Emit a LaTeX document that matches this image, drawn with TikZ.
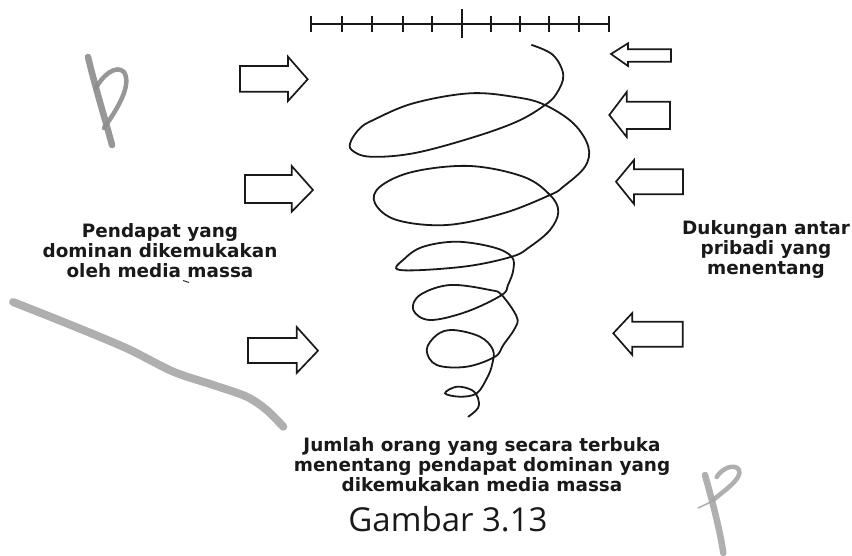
\documentclass[tikz,border=0pt]{standalone}
\usepackage{fontspec}
\newfontfamily\labelfont{DejaVu Sans}
\newfontfamily\captionfont{Open Sans}
\begin{document}
\begin{tikzpicture}[x=1pt,y=-1pt,
  ink/.style={draw=black!90, line width=1.8pt, line join=miter},
  blockarrow/.style={ink, line width=1.7pt},
  tick/.style={draw=black!90, line width=1.7pt},
  label/.style={font=\labelfont\bfseries\fontsize{18.4}{20}\selectfont, align=center, inner sep=0pt, text=black!90},
  pencil/.style={draw=black!45, line cap=round, line join=round, opacity=0.9}]
\useasboundingbox (0,0) rectangle (852,555);

% scale ruler along the top
\coordinate (rulerL) at (311,24);
\coordinate (rulerR) at (609.3,24);
\draw[ink, line width=1.4pt] (rulerL) -- (rulerR);
\foreach \tx in {311,342.3,371.7,402.7,432.3,491,520,549.3,579.3,609.3}
  \draw[tick] (\tx,16) -- (\tx,32);
\draw[tick] (462.3,9) -- (462.3,38);

% pressure arrows from the left (dominant media opinion)
\draw[blockarrow] (240,66) -- (288,66) -- (288,56.7) -- (307.7,79.3) -- (288,101) -- (288,91.7) -- (240,91.7) -- cycle;
\draw[blockarrow] (245,175) -- (291.7,175) -- (291.7,166) -- (313,190) -- (291.7,211.7) -- (291.7,203) -- (245,203) -- cycle;
\draw[blockarrow] (248,338) -- (296.7,338) -- (296.7,327) -- (318,350.7) -- (296.7,373) -- (296.7,363) -- (248,363) -- cycle;

% pressure arrows from the right (interpersonal support)
\draw[blockarrow] (671,49.3) -- (628,49.3) -- (628,43.3) -- (611,54) -- (628,66) -- (628,61.7) -- (671,61.7) -- cycle;
\draw[blockarrow] (670,101.7) -- (626.7,101.7) -- (626.7,92) -- (609.3,115) -- (626.7,137) -- (626.7,129) -- (670,129) -- cycle;
\draw[blockarrow] (683,169.3) -- (634,169.3) -- (634,160) -- (616,181.7) -- (634,204) -- (634,194.3) -- (683,194.3) -- cycle;
\draw[blockarrow] (682.7,321.7) -- (632.3,321.7) -- (632.3,313) -- (613.3,333.3) -- (632.3,355) -- (632.3,346.7) -- (682.7,346.7) -- cycle;

% the spiral of silence
\draw[ink, line cap=round] plot[smooth, tension=0.6] coordinates {
  (531.7,45) (553,55) (563.3,75) (556.7,93.3) (545,105) (516.7,121.7) (470,138.3)
  (413.3,153.3) (370,156.7) (351.7,150) (351,141) (360,128.3) (373.3,120) (413.3,103.3)
  (470,93.3) (516.7,97.3) (545,105) (573.3,123.3) (588.3,146.7) (585,166.7) (563.3,186.7)
  (550,195) (503.3,213.3) (446.7,225) (396.7,220) (375,203.3) (380,186.7) (413.3,171.7)
  (470,166) (523.3,176.7) (550,195) (558.3,211.7) (550,230) (530,246.7) (511.7,256.7)
  (463.3,266.7) (400,270) (405,258.3) (423.3,246.7) (456.7,241.7) (493.3,247.3)
  (511.7,256.7) (513.3,270) (508,285) (501.7,295) (466.7,311.7) (430,320) (413.3,310)
  (420,295) (450,285) (490,290) (501.7,295) (516.7,316.7) (515,328) (503.3,345)
  (495,356.7) (466.7,366.7) (436.7,365) (426.7,350) (436.7,335) (453,330) (480,336.7)
  (493,350) (492,365) (487,378) (476.7,393.3) (460,396.7) (445,393.3) (456.7,386.7)
  (471.7,390) (478,398) (478,408) (468.3,416.7)};

% labels
\node[label] (media) at (160,251) {Pendapat yang\\dominan dikemukakan\\oleh media massa};
\node[label] (support) at (766,249.5) {Dukungan antar\\pribadi yang\\menentang};
\node[label] (count) at (482,464.5) {Jumlah orang yang secara terbuka\\menentang pendapat dominan yang\\dikemukakan media massa};
\node[font=\captionfont\fontsize{33}{36}\selectfont, anchor=base, inner sep=0pt, text=black!90] (caption) at (448,531.7) {Gambar 3.13};

% pencil marks on the page
\draw[pencil, line width=6.5pt] (88,57) .. controls (96,90) and (104,115) .. (112,145);
\draw[pencil, line width=4.5pt] (104,128) .. controls (118,108) and (132,85) .. (124,72) .. controls (116,64) and (102,76) .. (96,88);
\draw[pencil, line width=8pt, draw=black!35] plot[smooth] coordinates {(13,302) (66.7,323.3) (126.7,348.3) (173.3,371.7) (213.3,385) (246.7,396.7) (266.7,410) (283.3,426.7)};
\draw[pencil, line width=6.5pt, draw=black!35] (705,475) .. controls (712,500) and (720,530) .. (723.3,553);
\draw[pencil, line width=4.5pt, draw=black!35] (713,500) .. controls (728,488) and (742,478) .. (739,470) .. controls (735,463) and (722,468) .. (716.7,477);
\draw[pencil, line width=1.5pt, draw=black!35] (698,508) -- (713,501);
\draw[black!80, line width=1pt] (183,280.5) -- (189,282.5);
\end{tikzpicture}
\end{document}
